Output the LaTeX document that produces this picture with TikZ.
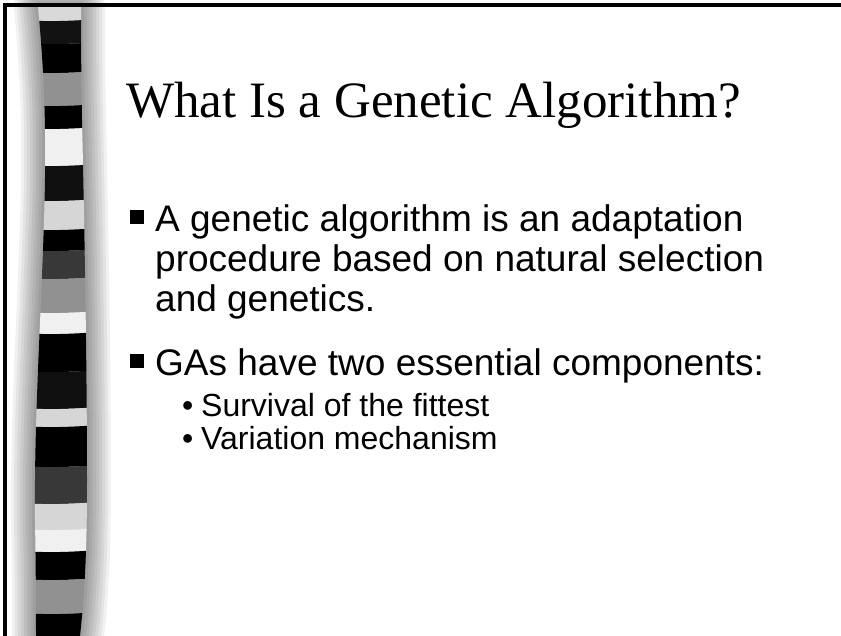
\documentclass[tikz,border=0pt]{standalone}
\usepackage{fontspec}
\setmainfont{Liberation Serif}
\setsansfont{Liberation Sans}
\usetikzlibrary{positioning}

\tikzset{
  slidetitle/.style={anchor=base west, inner sep=0pt, font=\fontsize{51}{51}\selectfont},
  mainitem/.style={anchor=base west, inner sep=0pt, align=left,
    font=\sffamily\fontsize{37}{40}\selectfont},
  subitem/.style={anchor=base west, inner sep=0pt, font=\sffamily\fontsize{32}{34}\selectfont},
  sqbullet/.style={fill=black, inner sep=0pt, minimum size=14pt},
  dotbullet/.style={anchor=base west, inner sep=0pt, font=\sffamily\fontsize{32}{34}\selectfont},
}

\begin{document}
\begin{tikzpicture}[x=1pt, y=-1pt]
  \useasboundingbox (0,0) rectangle (841,636);
  \fill[white] (0,0) rectangle (841,636);
  % outline of the stripe
  \def\stripe{(38,7) .. controls (44,70) and (47,130) .. (44,220)
    .. controls (41,320) and (34,420) .. (35,520)
    .. controls (36,580) and (36,610) .. (36,636) -- (80,636)
    .. controls (84,600) and (87,560) .. (87,480)
    .. controls (87,380) and (85,250) .. (82,120)
    .. controls (81,60) and (81,30) .. (81,7) -- cycle}
  % soft shadow round the stripe
  \foreach \w in {48,42,...,6}{
    \draw[line width=\w pt, black, opacity=0.055, line join=round] \stripe;
  }
  % grey blocks
  \begin{scope}
    \clip \stripe;
    \foreach \ya/\yb/\c in {0/20/black!15, 20/43/black!93, 43/72/black,
      72/105/black!43, 105/128/black, 128/165/black!6, 165/200/black!94,
      200/229/black!16, 229/250/black, 250/278/black!78, 278/312/black!43,
      312/333/black!6, 333/371/black, 371/408/black!94, 408/426/black!16,
      426/466/black, 466/503/black!78, 503/529/black!16, 529/551/black!6,
      551/579/black, 579/613/black!43, 613/640/black}{
      \fill[\c] (20,\ya) .. controls (50,\ya+2) and (70,\ya+1) .. (100,\ya-1)
        -- (100,\yb-1) .. controls (70,\yb+1) and (50,\yb+2) .. (20,\yb) -- cycle;
    }
  \end{scope}
  % frame
  \fill[black] (3,3) rectangle (841,7);
  \fill[black] (3,3) rectangle (7,636);
  % title
  \node[slidetitle] (title) at (126,118) {What Is a Genetic Algorithm?};
  % first item
  \node[sqbullet] (sq1) at (137,217) {};
  \node[mainitem] (def1) at (155,232) {A genetic algorithm is an adaptation};
  \node[mainitem] (def2) at (155,272) {procedure based on natural selection};
  \node[mainitem] (def3) at (155,312) {and genetics.};
  % second item
  \node[sqbullet] (sq2) at (137,361) {};
  \node[mainitem] (comp) at (155,376) {GAs have two essential components:};
  \node[dotbullet] (dot1) at (182,416) {•};
  \node[subitem] (sub1) at (201,416) {Survival of the fittest};
  \node[dotbullet] (dot2) at (182,449) {•};
  \node[subitem] (sub2) at (201,449) {Variation mechanism};
\end{tikzpicture}
\end{document}
